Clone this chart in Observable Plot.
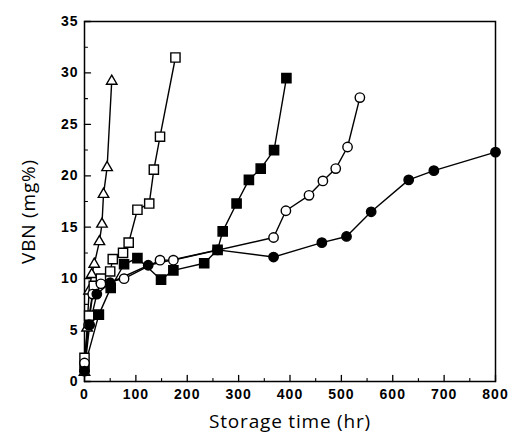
<!DOCTYPE html>
<html><head><meta charset="utf-8">
<script src="https://cdn.jsdelivr.net/npm/d3@7"></script>
<script src="https://cdn.jsdelivr.net/npm/@observablehq/plot@0.6"></script>
<style>
body{margin:0;background:#fff;}
</style>
</head><body><div id="chart"></div>
<script>
// Series data (storage time in hr, VBN in mg%)
const triTime = [0, 5, 9, 14, 19, 29, 34, 37, 44, 53];
const triVBN  = [0.9, 5.2, 8.8, 10.4, 11.4, 13.6, 15.3, 18.2, 20.8, 29.2];

const osqTime = [0, 9, 18, 32, 50, 55, 75, 86, 103, 126, 135, 147, 177];
const osqVBN  = [2.3, 6.4, 9.3, 10.0, 10.7, 11.9, 12.5, 13.5, 16.7, 17.3, 20.6, 23.8, 31.5];

const fsqTime = [0, 28, 51, 77, 103, 149, 173, 233, 259, 269, 296, 320, 343, 369, 393];
const fsqVBN  = [1.4, 6.5, 9.1, 11.4, 12.0, 9.9, 10.8, 11.5, 12.8, 14.6, 17.3, 19.6, 20.7, 22.5, 29.5];

const ocTime = [0, 8, 16, 32, 77, 147, 173, 368, 392, 437, 464, 489, 512, 536];
const ocVBN  = [1.8, 5.5, 8.5, 9.5, 10.0, 11.8, 11.8, 14.0, 16.6, 18.1, 19.5, 20.7, 22.8, 27.6];

const fcTime = [0, 10, 24, 50, 124, 259, 368, 462, 510, 558, 631, 680, 800];
const fcVBN  = [1.0, 5.5, 8.5, 9.6, 11.3, 12.8, 12.1, 13.5, 14.1, 16.5, 19.6, 20.5, 22.3];

const xTicks = [0, 100, 200, 300, 400, 500, 600, 700, 800];
const xMinor = [50, 150, 250, 350, 450, 550, 650, 750];
const yTicks = [0, 5, 10, 15, 20, 25, 30, 35];
const yMinor = [2.5, 7.5, 12.5, 17.5, 22.5, 27.5, 32.5];

const xTitle = "Storage time (hr)";
const yTitle = "VBN (mg%)";

const series = [
  {time: triTime, vbn: triVBN, symbol: "triangle", fill: "white", r: 3.9},
  {time: osqTime, vbn: osqVBN, symbol: "square", fill: "white", r: 5.2},
  {time: fsqTime, vbn: fsqVBN, symbol: "square", fill: "black", r: 5.2},
  {time: ocTime, vbn: ocVBN, symbol: "circle", fill: "white", r: 4.7},
  {time: fcTime, vbn: fcVBN, symbol: "circle", fill: "black", r: 4.7}
];
const tables = series.map(s => s.time.map((t, i) => ({t, v: s.vbn[i]})));

const tickShape = {draw(context, l) { context.moveTo(0, 0); context.lineTo(0, -l); }};

const marks = [];
tables.forEach(d => marks.push(Plot.line(d, {x: "t", y: "v", stroke: "black", strokeWidth: 1.4})));
series.forEach((s, k) => marks.push(Plot.dot(tables[k], {x: "t", y: "v", symbol: () => s.symbol, r: s.r, fill: s.fill, stroke: "black", strokeWidth: 1.4})));

const chart = Plot.plot({
  width: 517,
  height: 442,
  marginLeft: 84,
  marginRight: 22,
  marginTop: 21,
  marginBottom: 61,
  style: {fontFamily: "'Liberation Sans', Arial, sans-serif", background: "white", color: "black"},
  x: {domain: [0, 800], label: null},
  y: {domain: [0, 35], label: null},
  symbol: {type: "identity"},
  marks: [
    Plot.frame({stroke: "black", strokeWidth: 1.5}),
    Plot.vector(xTicks, {x: d => d, frameAnchor: "bottom", length: 6, anchor: "start", rotate: 0, shape: tickShape, stroke: "black", strokeWidth: 1.3}),
    Plot.vector(xMinor, {x: d => d, frameAnchor: "bottom", length: 3, anchor: "start", rotate: 0, shape: tickShape, stroke: "black", strokeWidth: 1.1}),
    Plot.vector(yTicks, {y: d => d, frameAnchor: "left", length: 6, anchor: "start", rotate: 90, shape: tickShape, stroke: "black", strokeWidth: 1.3}),
    Plot.vector(yMinor, {y: d => d, frameAnchor: "left", length: 3, anchor: "start", rotate: 90, shape: tickShape, stroke: "black", strokeWidth: 1.1}),
    Plot.axisX(xTicks, {tickSize: 0, tickPadding: 8, fontSize: 14, fontWeight: "bold", label: null}),
    Plot.axisY(yTicks, {tickSize: 0, tickPadding: 6, fontSize: 14, fontWeight: "bold", label: null}),
    ...marks,
    Plot.text([xTitle], {text: d => d, frameAnchor: "bottom", dy: 46, textAnchor: "middle", fontSize: 19, fontFamily: "'Open Sans', sans-serif"}),
    Plot.text([yTitle], {text: d => d, frameAnchor: "left", dx: -56, dy: 10, textAnchor: "middle", lineAnchor: "middle", rotate: -90, fontSize: 19, fontFamily: "'Open Sans', sans-serif"})
  ]
});
document.getElementById("chart").appendChild(chart);
d3.select(chart).selectAll("g[aria-label='x-axis tick label'] text, g[aria-label='y-axis tick label'] text").attr("letter-spacing", "1px");
d3.select(chart).selectAll("g[aria-label='text'] text").attr("letter-spacing", "0.8px");
</script>
</body></html>
